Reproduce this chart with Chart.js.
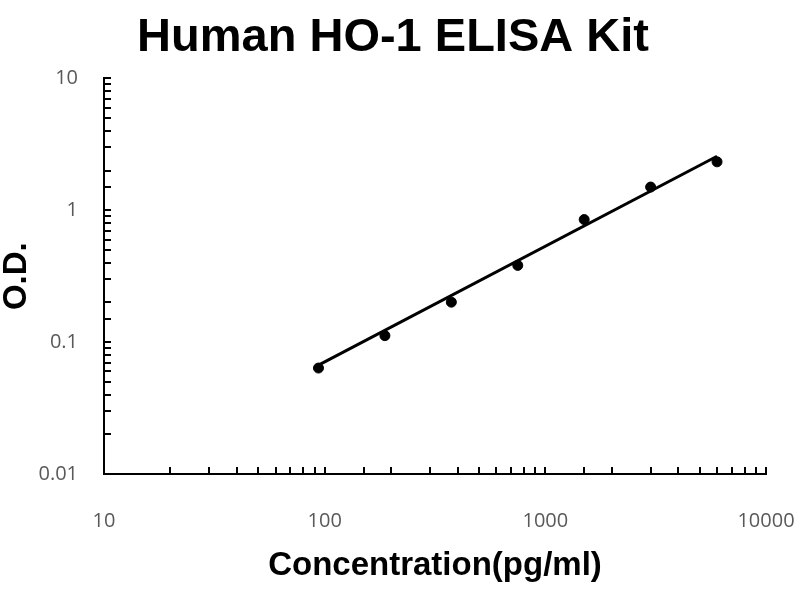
<!DOCTYPE html>
<html>
<head>
<meta charset="utf-8">
<script src="https://cdn.jsdelivr.net/npm/chart.js@4"></script>
<style>
html,body{margin:0;padding:0;background:#fff;}
#wrap{width:800px;height:600px;}
</style>
</head>
<body>
<div id="wrap"><canvas id="c" width="800" height="600"></canvas></div>
<script>
const concentration = [93.75, 187.5, 375, 750, 1500, 3000, 6000];
const odValues = [0.0636, 0.112, 0.201, 0.382, 0.85, 1.50, 2.33];
const trendX = [93.75, 6000];
const trendY = [0.067, 2.57];
const xTickLabels = [10, 100, 1000, 10000];
const yTickLabels = [0.01, 0.1, 1, 10];
const titleText = 'Human HO-1 ELISA Kit';
const xTitle = 'Concentration(pg/ml)';
const yTitle = 'O.D.';

const pts = concentration.map((x, i) => ({x: x, y: odValues[i]}));
const trend = trendX.map((x, i) => ({x: x, y: trendY[i]}));

const fmt = v => {
  const a = xTickLabels.concat(yTickLabels).find(t => Math.abs(t - v) / t < 1e-6);
  return a !== undefined ? String(a) : '';
};

new Chart(document.getElementById('c'), {
  type: 'scatter',
  data: {
    datasets: [
      {label: 'fit', type: 'line', data: trend, borderColor: '#000', borderWidth: 3, pointRadius: 0, fill: false, tension: 0},
      {label: 'OD', data: pts, backgroundColor: '#000', borderColor: '#000', pointRadius: 5, pointHoverRadius: 5}
    ]
  },
  options: {
    responsive: false,
    animation: false,
    devicePixelRatio: 1,
    layout: {padding: {left: 0, right: 14, top: 0, bottom: 14}},
    plugins: {
      legend: {display: false},
      tooltip: {enabled: false},
      title: {
        display: true, text: titleText, color: '#000',
        font: {family: 'Liberation Sans', size: 47, weight: 'bold'},
        padding: {top: 10, bottom: 12}
      }
    },
    scales: {
      x: {
        type: 'logarithmic', min: 10, max: 10000,
        border: {display: true, color: '#000', width: 2},
        grid: {display: true, drawOnChartArea: false, drawTicks: true, tickLength: -7, color: '#000', lineWidth: 2},
        ticks: {autoSkip: false, maxRotation: 0, color: '#595959', padding: 42,
          font: {family: 'Open Sans', size: 20}, callback: v => fmt(v)},
        title: {display: true, text: xTitle, color: '#000', padding: {top: 10, bottom: 0},
          font: {family: 'Liberation Sans', size: 33, weight: 'bold', lineHeight: 1.2}},
        afterFit: s => { s.height = 112; s.paddingRight = 34; s.paddingLeft = 20; }
      },
      y: {
        type: 'logarithmic', min: 0.01, max: 10,
        border: {display: true, color: '#000', width: 2},
        grid: {display: true, drawOnChartArea: false, drawTicks: true, tickLength: -7, color: '#000', lineWidth: 2},
        ticks: {autoSkip: false, color: '#595959', padding: 33,
          font: {family: 'Open Sans', size: 20}, callback: v => fmt(v)},
        title: {display: true, text: yTitle, color: '#000', padding: {top: 0, bottom: 0},
          font: {family: 'Liberation Sans', size: 33, weight: 'bold', lineHeight: 1.0}},
        afterFit: s => { s.width = 104; }
      }
    }
  }
});
</script>
</body>
</html>
